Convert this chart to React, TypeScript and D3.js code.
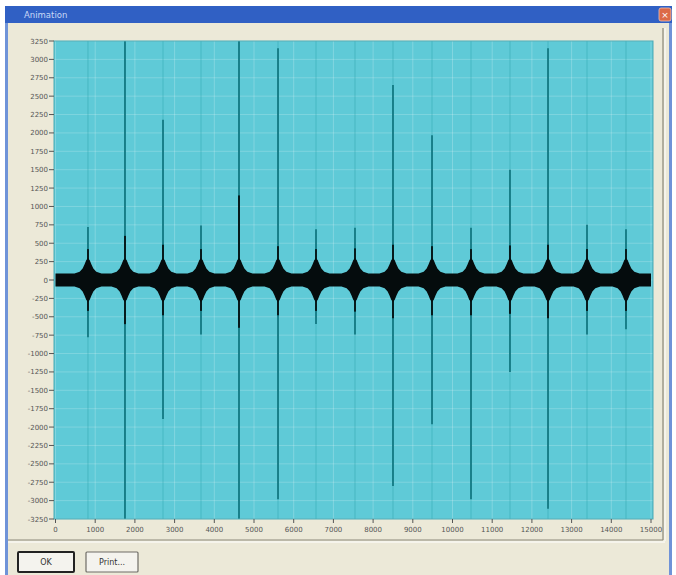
import React from "react";
import * as d3 from "d3";

// ---- data ----
const yTicks = [3250, 3000, 2750, 2500, 2250, 2000, 1750, 1500, 1250, 1000, 750, 500, 250, 0,
  -250, -500, -750, -1000, -1250, -1500, -1750, -2000, -2250, -2500, -2750, -3000, -3250];
const xTicks = [0, 1000, 2000, 3000, 4000, 5000, 6000, 7000, 8000, 9000, 10000, 11000, 12000, 13000, 14000, 15000];

// spike centres (sample index) and their peak values
const spikeX = [818, 1750, 2708, 3665, 4622, 5605, 6562, 7544, 8501, 9484, 10466, 11448, 12406, 13388, 14370];
const spikeUp = [720, 3250, 2180, 740, 3250, 3150, 690, 710, 2650, 1970, 710, 1500, 3150, 750, 690];
const spikeDown = [-780, -3250, -1890, -740, -3250, -2980, -600, -740, -2800, -1960, -2980, -1250, -3110, -740, -670];
// dark (black) core of each spike
const coreUp = [420, 600, 480, 420, 1150, 460, 420, 430, 480, 460, 420, 470, 480, 420, 420];
const coreDown = [-420, -600, -480, -420, -650, -480, -420, -430, -520, -480, -480, -460, -520, -420, -420];

// envelope of the burst around each spike (offset in samples, half-amplitude)
const burstOffset = [-340, -210, -135, -85, -45, 0, 45, 85, 135, 210, 340];
const burstAmp = [88, 112, 155, 215, 268, 300, 268, 215, 155, 112, 88];
const baseAmp = 88;

const W = 676, H = 575;
const L = 54, R = 653, T = 41, B = 519;

export default function App() {
  const x = d3.scaleLinear().domain([0, 15000]).range([55.5, 651]);
  const y = d3.scaleLinear().domain([-3250, 3250]).range([B, T]);

  const env: [number, number][] = [[0, baseAmp]];
  spikeX.forEach((s) => {
    burstOffset.forEach((o, i) => env.push([s + o, burstAmp[i]]));
  });
  env.push([15000, baseAmp]);
  env.sort((a, b) => a[0] - b[0]);

  const area = d3
    .area<[number, number]>()
    .x((d) => x(d[0]))
    .y0((d) => y(-d[1]))
    .y1((d) => y(d[1]))
    .curve(d3.curveLinear);

  const font = "'DejaVu Sans', Verdana, sans-serif";

  return (
    <svg width={W} height={H} style={{ position: "absolute", left: 0, top: 0 }}>
      <rect x={0} y={0} width={W} height={H} fill="#ffffff" />
      {/* window */}
      <rect x={5} y={6} width={667} height={H} fill="#ece9d8" />
      <rect x={5} y={6} width={3} height={H} fill="#6f93d8" />
      <rect x={669} y={6} width={3} height={H} fill="#6f93d8" />
      <rect x={5} y={6} width={667} height={17} fill="#3060c4" />
      <text x={24} y={18} fontFamily={font} fontSize={8.5} fill="#c9d8f6">Animation</text>
      <rect x={659} y={8} width={12} height={13} rx={2} fill="#dc6a48" stroke="#f3c2b0" strokeWidth={0.8} />
      <text x={665} y={18} fontFamily={font} fontSize={9} fill="#fff" textAnchor="middle">×</text>

      {/* group frame */}
      <line x1={663} x2={663} y1={28} y2={540} stroke="#8a8778" strokeWidth={1.2} />
      <line x1={665} x2={665} y1={28} y2={541} stroke="#ffffff" strokeWidth={1} />
      <line x1={8} x2={663} y1={540} y2={540} stroke="#8a8778" strokeWidth={1.2} />
      <line x1={8} x2={665} y1={542} y2={542} stroke="#ffffff" strokeWidth={1} />

      {/* plot background */}
      <rect x={L} y={T} width={R - L} height={B - T} fill="#5fcad7" />
      {xTicks.map((t) => (
        <line key={"gx" + t} x1={x(t)} x2={x(t)} y1={T} y2={B} stroke="#ffffff" strokeOpacity={0.22} strokeWidth={1} />
      ))}
      {yTicks.map((t) => (
        <line key={"gy" + t} x1={L} x2={R} y1={y(t)} y2={y(t)} stroke="#ffffff" strokeOpacity={0.2} strokeWidth={1} />
      ))}
      {spikeX.map((s) => (
        <line key={"f" + s} x1={x(s)} x2={x(s)} y1={T} y2={B} stroke="#2a9fab" strokeOpacity={0.45} strokeWidth={1} />
      ))}
      {spikeX.map((s, i) => (
        <line key={"s" + s} x1={x(s)} x2={x(s)} y1={y(spikeUp[i])} y2={y(spikeDown[i])} stroke="#137983" strokeWidth={1.8} />
      ))}
      {spikeX.map((s, i) => (
        <line key={"c" + s} x1={x(s)} x2={x(s)} y1={y(coreUp[i])} y2={y(coreDown[i])} stroke="#061a1c" strokeWidth={2} />
      ))}
      <path d={area(env) || ""} fill="#050c0d" />
      <rect x={L} y={T} width={R - L} height={B - T} fill="none" stroke="#4aa9b4" strokeWidth={1} />

      {/* y axis */}
      {yTicks.map((t) => (
        <g key={"yt" + t}>
          <line x1={49} x2={L} y1={y(t)} y2={y(t)} stroke="#555" strokeWidth={1} />
          <text x={48} y={y(t) + 2.5} fontFamily={font} fontSize={7} fill="#555" textAnchor="end">{t}</text>
        </g>
      ))}
      {/* x axis */}
      {xTicks.map((t) => (
        <g key={"xt" + t}>
          <line x1={x(t)} x2={x(t)} y1={B} y2={B + 4} stroke="#555" strokeWidth={1} />
          <text x={x(t)} y={532} fontFamily={font} fontSize={7} fill="#555" textAnchor="middle">{t}</text>
        </g>
      ))}

      {/* buttons */}
      <rect x={18} y={552} width={56} height={20} fill="#f4f3ee" stroke="#222" strokeWidth={2} rx={1} />
      <text x={46} y={565} fontFamily={font} fontSize={8} fill="#333" textAnchor="middle">OK</text>
      <rect x={86} y={552} width={52} height={20} fill="#f4f3ee" stroke="#6e6d66" strokeWidth={1.2} rx={1} />
      <text x={112} y={565} fontFamily={font} fontSize={8} fill="#333" textAnchor="middle">Print...</text>
    </svg>
  );
}
